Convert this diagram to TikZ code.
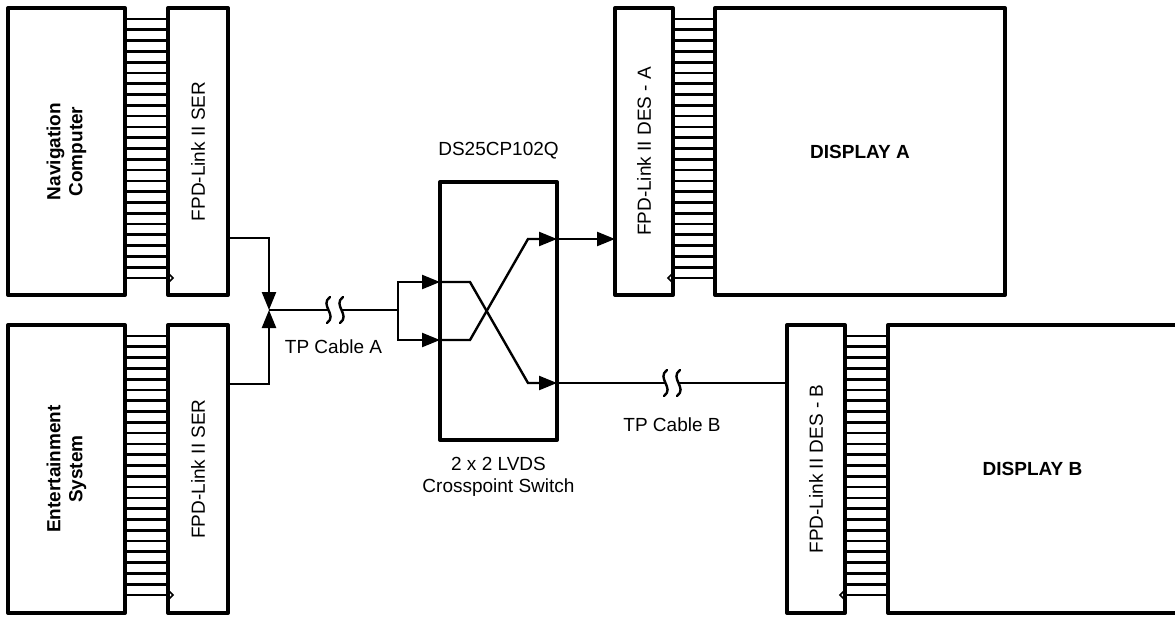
\documentclass[tikz,border=0pt]{standalone}
\usepackage{fontspec}
\setmainfont{Liberation Sans}
\usepackage{tikz}
\usetikzlibrary{positioning}
\usetikzlibrary{arrows.meta}

\tikzset{
  box/.style={draw, line width=2pt, line join=round, fill=white, outer sep=0pt, inner sep=0pt},
  txt/.style={font=\fontsize{9.5}{11}\selectfont},
  boldtxt/.style={font=\fontsize{9.5}{11}\selectfont\bfseries},
  bus/.style={line width=1.35pt},
  wire/.style={line width=1.2pt},
  arr/.style={-{Triangle[length=9pt,width=7pt]}},
  clk/.style={line width=0.8pt},
  cablebreak/.pic={
    \fill[white] (-7,-4) rectangle (7,4);
    \draw[line width=1.2pt, line cap=round] (-5,-13) .. controls (-16,-5) and (3,5) .. (-8,13);
    \draw[line width=1.2pt, line cap=round] (8,-13) .. controls (-3,-5) and (16,5) .. (5,13);
  }
}

\begin{document}
\begin{tikzpicture}[x=0.5pt, y=-0.5pt, txt]
    \useasboundingbox (0,0) rectangle (1175,617);

    \node[box, anchor=north west, minimum width=58.5pt, minimum height=143.5pt,
          label={[rotate=90, align=center, boldtxt]center:Navigation\\Computer}] (nav) at (8,8) {};
    \node[box, right=21.5pt of nav, minimum width=30pt, minimum height=143.5pt,
          label={[rotate=90]center:FPD-Link II SER}] (navser) {};

    \node[box, below=15pt of nav, minimum width=58.5pt, minimum height=144pt,
          label={[rotate=90, align=center, boldtxt]center:Entertainment\\System}] (ent) {};
    \node[box, right=21.5pt of ent, minimum width=30pt, minimum height=144pt,
          label={[rotate=90]center:FPD-Link II SER}] (entser) {};

    \node[box, anchor=north west, minimum width=58.5pt, minimum height=129pt] (sw) at (440,182) {};
    \node[above=8pt of sw] (swname) {DS25CP102Q};
    \node[below=5pt of sw, align=center] (swtype) {2 x 2 LVDS\\Crosspoint Switch};

    \node[box, anchor=north west, minimum width=29pt, minimum height=143.5pt,
          label={[rotate=90]center:FPD-Link II DES - A}] (desa) at (615,8) {};
    \node[box, right=21pt of desa, minimum width=145pt, minimum height=143.5pt,
          label={[boldtxt]center:DISPLAY A}] (dispa) {};

    \node[box, anchor=north west, minimum width=29pt, minimum height=144pt,
          label={[rotate=90]center:FPD-Link II DES - B}] (desb) at (787,325) {};
    \node[box, right=21.5pt of desb, minimum width=144.5pt, minimum height=144pt,
          label={[boldtxt]center:DISPLAY B}] (dispb) {};

    % parallel buses
    \foreach \l/\r in {nav/navser, ent/entser, desa/dispa, desb/dispb}
        \foreach \i in {0,...,24}
            \draw[bus] ([yshift={-5.5pt-\i*5.395pt}]\l.north east) -- ([yshift={-5.5pt-\i*5.395pt}]\r.north west);

    \foreach \s in {navser, entser}
        \draw[clk] ([yshift=-132.5pt]\s.north west) -- ++(2.5pt,-2.5pt) -- ++(-2.5pt,-2.5pt);
    \foreach \s in {desa, desb}
        \draw[clk] ([yshift=-132.5pt]\s.north east) -- ++(-2.5pt,-2.5pt) -- ++(2.5pt,-2.5pt);

    \coordinate (join) at (269,310);
    \coordinate (split) at (398,310);
    \coordinate (ina) at ([yshift=14.5pt]sw.west);
    \coordinate (inb) at ([yshift=-14.5pt]sw.west);
    \coordinate (outa) at ([yshift=36pt]sw.east);
    \coordinate (outb) at ([yshift=-36pt]sw.east);

    \draw[wire, arr] ([yshift=28.5pt]navser.south east) -| (join);
    \draw[wire, arr] ([yshift=-29.5pt]entser.north east) -| (join);
    \draw[wire] (join) -- (split);
    \draw[wire, arr] (split) |- (ina);
    \draw[wire, arr] (split) |- (inb);

    \draw[wire, arr] (ina) -- ++(15pt,0) -- ([xshift=-14.5pt]outb) -- (outb);
    \draw[wire, arr] (inb) -- ++(15pt,0) -- ([xshift=-14.5pt]outa) -- (outa);

    \draw[wire, arr] (outa) -- (outa -| desa.west);
    \draw[wire] (outb) -- (outb -| desb.west);

    \path (join) -- (split) node[midway, below=11.5pt] (cablea) {TP Cable A};
    \path (outb) -- (outb -| desb.west) node[midway, below=14pt] (cableb) {TP Cable B};

    \pic at (335,310) {cablebreak};
    \pic at (672,383) {cablebreak};

\end{tikzpicture}
\end{document}
